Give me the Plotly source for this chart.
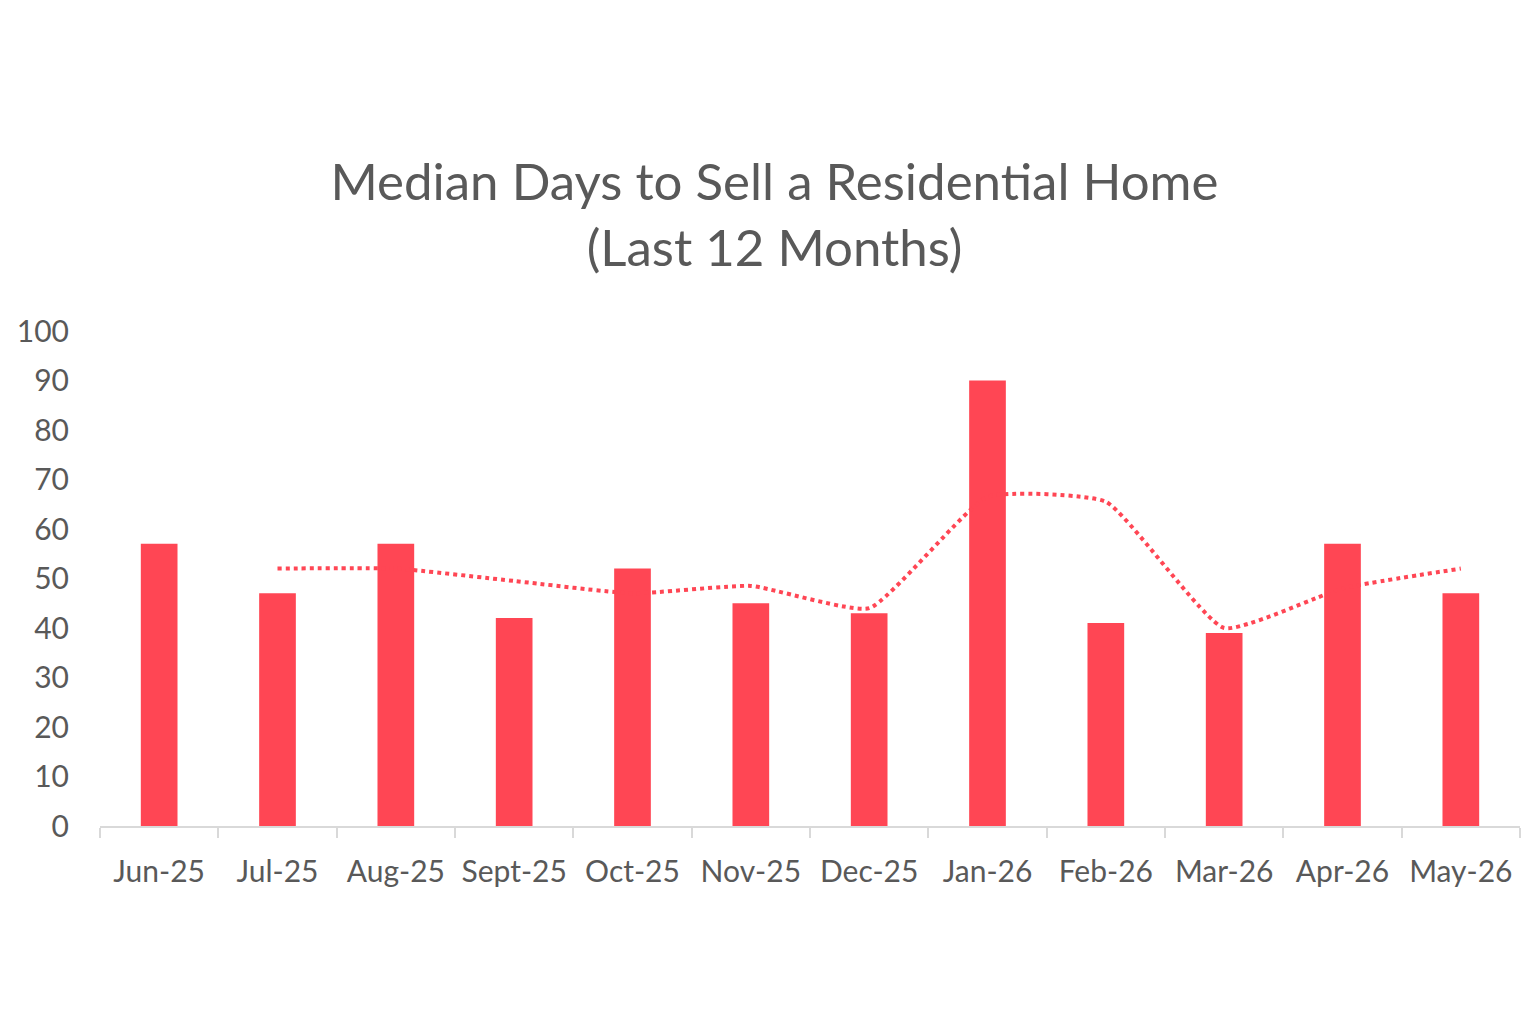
import plotly.graph_objects as go

months = ["Jun-25", "Jul-25", "Aug-25", "Sept-25", "Oct-25", "Nov-25",
          "Dec-25", "Jan-26", "Feb-26", "Mar-26", "Apr-26", "May-26"]
median_days = [57, 47, 57, 42, 52, 45, 43, 90, 41, 39, 57, 47]
trend_months = months[1:]
trend_values = [52, 52, 49.5, 47, 48.5, 44, 66.5, 65.5, 40, 48, 52]

RED = "#FF4654"
GREY = "#595959"
FONT = "Lato, 'Open Sans', sans-serif"

fig = go.Figure()
fig.add_trace(go.Bar(x=months, y=median_days, marker_color=RED,
                     marker_line_width=0, showlegend=False))
fig.add_trace(go.Scatter(x=trend_months, y=trend_values, mode="lines",
                         line=dict(color=RED, width=4, dash="dot", shape="spline", smoothing=0.45),
                         showlegend=False))

fig.update_layout(
    width=1536, height=1024,
    paper_bgcolor="white", plot_bgcolor="white",
    margin=dict(l=100, r=16, t=331, b=198, autoexpand=False),
    bargap=0.69,
    font=dict(family=FONT, color=GREY),
    title=dict(text="Median Days to Sell a Residential Home<br>(Last 12 Months)",
               x=0.475, xref="paper", xanchor="center", y=0.805, yref="container", yanchor="middle",
               font=dict(size=51, color=GREY, family=FONT)),
)
fig.update_xaxes(type="category", showline=True, linecolor="#D9D9D9", linewidth=2,
                 ticks="outside", tickson="boundaries", ticklen=10, tickcolor="#D9D9D9",
                 tickwidth=2, tickfont=dict(size=30, color=GREY), showgrid=False,
                 tickangle=0, ticklabelstandoff=18, automargin=False)
fig.update_yaxes(range=[0, 100], dtick=10, showgrid=False, showline=False, zeroline=False,
                 tickfont=dict(size=30, color=GREY), ticklabelstandoff=30, automargin=False)

fig.write_html("out.html")
